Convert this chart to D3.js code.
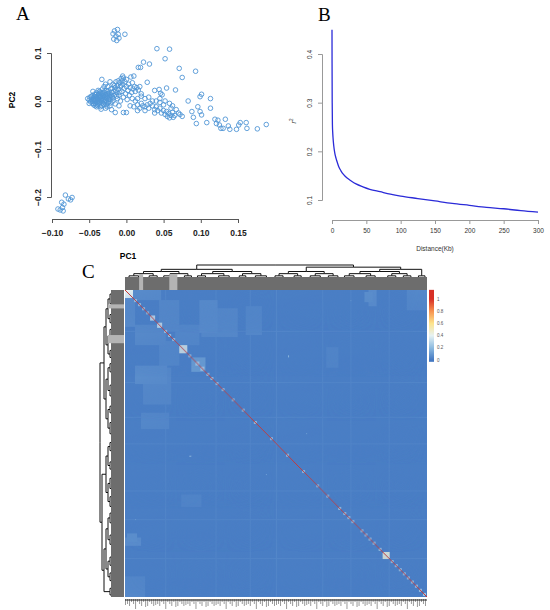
<!DOCTYPE html>
<html>
<head>
<meta charset="utf-8">
<script src="https://cdn.jsdelivr.net/npm/d3@7"></script>
<style>
body { margin: 0; background: #fff; }
svg text { font-family: "Liberation Sans", Arial, sans-serif; }
</style>
</head>
<body>
<div id="fig"></div>
<script>
// ---- Panel A: PCA (PC1, PC2) ----
const pcaPoints = [
  // upper group
  [-0.018,0.140],[-0.016,0.146],[-0.014,0.135],[-0.012,0.149],[-0.011,0.139],[-0.017,0.129],[-0.013,0.126],[-0.010,0.131],[-0.002,0.139],
  // lower-left group
  [-0.092,-0.225],[-0.089,-0.227],[-0.086,-0.222],[-0.084,-0.215],[-0.087,-0.211],[-0.082,-0.196],[-0.078,-0.204],[-0.075,-0.206],[-0.073,-0.201],[-0.085,-0.229],
  // scattered above the main cloud
  [0.041,0.109],[0.058,0.108],[0.052,0.088],[0.023,0.081],[0.031,0.077],[0.016,0.070],[0.019,0.070],[0.071,0.068],[0.093,0.062],[0.075,0.049],
  [0.028,0.039],[0.044,0.024],[0.054,0.027],[0.066,0.023],[0.046,0.016],[0.038,0.022],
  // main cloud
  [-0.052,0.005],[-0.050,0.002],[-0.049,0.008],[-0.048,-0.002],[-0.047,0.004],[-0.046,0.011],[-0.045,-0.005],[-0.045,0.000],[-0.044,0.006],[-0.043,0.014],
  [-0.042,-0.010],[-0.042,0.002],[-0.041,0.009],[-0.040,-0.003],[-0.040,0.017],[-0.039,0.005],[-0.038,0.012],[-0.038,-0.007],[-0.037,0.000],[-0.036,0.020],
  [-0.036,0.008],[-0.035,-0.012],[-0.035,0.003],[-0.034,0.015],[-0.033,0.045],[-0.033,-0.004],[-0.032,0.010],[-0.032,0.025],[-0.031,0.002],[-0.030,0.018],
  [-0.030,-0.008],[-0.029,0.007],[-0.028,-0.015],[-0.028,0.013],[-0.027,0.000],[-0.027,0.022],[-0.026,0.006],[-0.025,0.030],[-0.025,-0.005],[-0.024,0.016],
  [-0.023,0.010],[-0.022,-0.010],[-0.022,0.003],[-0.021,0.025],[-0.020,0.018],[-0.020,-0.018],[-0.019,0.008],[-0.018,0.035],[-0.018,0.000],[-0.017,0.020],
  [-0.016,0.012],[-0.015,0.028],[-0.015,-0.006],[-0.014,0.040],[-0.013,0.017],[-0.012,0.005],[-0.012,0.032],[-0.011,0.024],[-0.010,-0.010],[-0.010,0.012],
  [-0.009,0.038],[-0.008,0.030],[-0.008,0.000],[-0.007,0.047],[-0.006,0.020],[-0.005,0.035],[-0.005,0.052],[-0.004,0.008],[-0.003,0.026],[-0.002,0.040],
  [-0.001,0.015],[0.000,0.030],[0.000,0.045],[0.001,0.003],[0.002,0.022],[0.003,0.035],[0.004,0.012],[0.005,0.028],[0.006,0.050],[0.007,0.018],
  [0.008,0.038],[0.009,0.025],[0.010,0.052],[0.011,0.030],[0.012,0.020],[0.014,0.028],[0.016,0.023],[0.018,0.030],[-0.030,0.030],[-0.028,0.035],
  [-0.022,0.040],[-0.045,0.020],[-0.050,-0.005],[-0.038,0.022],[-0.040,-0.012],[-0.034,-0.017],[-0.026,-0.012],[-0.044,-0.008],[-0.039,0.000],[-0.036,-0.003],
  [-0.033,0.005],[-0.031,0.012],[-0.029,-0.002],[-0.026,0.015],[-0.024,0.004],[-0.035,0.009],[-0.041,0.003],[-0.043,0.000],[0.020,0.010],[0.025,0.005],
  [0.015,0.005],[-0.015,-0.024],[-0.004,-0.024],[0.000,-0.024],
  [-0.047,0.009],[-0.046,-0.001],[-0.044,0.003],[-0.043,0.009],[-0.042,-0.005],[-0.041,0.013],[-0.040,0.007],[-0.039,-0.009],[-0.038,0.004],[-0.037,0.015],
  [-0.037,-0.004],[-0.036,0.012],[-0.035,0.018],[-0.034,0.001],[-0.034,0.008],[-0.033,-0.010],[-0.032,0.016],[-0.031,-0.006],[-0.030,0.004],[-0.030,0.010],
  [-0.029,0.021],[-0.028,0.002],[-0.027,-0.008],[-0.026,0.010],[-0.025,0.020],[-0.024,-0.002],[-0.023,0.014],[-0.022,0.008],[-0.021,-0.004],[-0.020,0.012],
  [-0.019,0.026],[-0.018,0.006],[-0.016,0.032],[-0.014,0.022],[-0.013,0.010],[-0.011,0.042],[-0.009,0.018],[-0.007,0.032],[-0.006,0.042],[-0.004,0.048],
  // band toward the right
  [0.005,-0.010],[0.010,-0.012],[0.015,-0.008],[0.018,-0.015],[0.020,-0.005],[0.022,-0.010],[0.025,-0.012],[0.028,-0.008],[0.030,-0.015],[0.032,-0.005],
  [0.035,-0.010],[0.038,-0.018],[0.040,-0.012],[0.042,-0.020],[0.045,-0.015],[0.047,-0.025],[0.050,-0.020],[0.052,-0.028],[0.054,-0.022],[0.055,-0.032],
  [0.057,-0.026],[0.058,-0.035],[0.060,-0.030],[0.062,-0.024],[0.063,-0.034],[0.065,-0.030],[0.067,-0.018],[0.070,-0.025],[0.072,-0.028],[0.075,-0.032],
  [0.050,-0.008],[0.045,-0.003],[0.040,0.000],[0.030,0.008],[0.035,0.000],[0.012,0.000],[0.008,0.005],[0.020,0.015],[0.045,0.005],[0.048,0.013],
  [0.060,-0.015],[0.062,-0.010],[0.058,-0.005],[0.052,0.000],[0.038,-0.025],[0.025,-0.020],[0.015,-0.020],
  // tail
  [0.083,0.000],[0.088,-0.022],[0.090,-0.034],[0.094,-0.047],[0.096,-0.012],[0.099,-0.022],[0.101,-0.029],[0.101,0.014],[0.099,0.009],[0.108,-0.045],
  [0.113,0.005],[0.113,-0.015],[0.119,-0.038],[0.123,-0.040],[0.121,-0.047],[0.125,-0.050],[0.127,-0.057],[0.130,-0.057],[0.133,-0.038],[0.137,-0.052],
  [0.139,-0.059],[0.148,-0.059],[0.151,-0.050],[0.153,-0.045],[0.161,-0.045],[0.162,-0.057],[0.176,-0.058],[0.188,-0.049]
];
const pcaXTicks = [-0.10, -0.05, 0.00, 0.05, 0.10, 0.15];
const pcaYTicks = [-0.2, -0.1, 0.0, 0.1];

// ---- Panel B: LD decay ----
const ldDistance = [0, 0.1, 0.3, 0.6, 1, 1.5, 2.5, 4, 6, 8, 10, 13, 17, 22, 28, 35, 45, 55, 70, 85, 100, 125, 150, 175, 200, 225, 250, 275, 300];
const ldR2 = [0.450, 0.380, 0.300, 0.255, 0.240, 0.228, 0.212, 0.197, 0.185, 0.176, 0.168, 0.160, 0.152, 0.145, 0.139, 0.133, 0.127, 0.122, 0.117, 0.112, 0.108, 0.103, 0.098, 0.093, 0.089, 0.085, 0.082, 0.078, 0.075];
const ldXTicks = [0, 50, 100, 150, 200, 250, 300];
const ldYTicks = [0.1, 0.2, 0.3, 0.4];

// ---- Panel C: kinship heatmap ----
// sample clustering (a number = that many samples joined at one node)
const sampleTree = [
  [
    [[[8, [6, 4]], [[6, 6], 4]], [[[4, 6], [8, 4]], [6, [4, 4]]]],
    [[[4, [6, 6]], [[8, 4], [6, 4]]], [[[6, 4], 4], [[8, 6], [4, 6]]]]
  ],
  [
    [[[6, [4, 8]], [[4, 4], 6]], [[[6, 6], [4, 4]], [8, [6, 4]]]],
    [[[[4, [8, 6]], [[6, 4], [4, 6]]], [[[8, 4], 6], [[4, 6], 4]]], [[6, 4], 4]]
  ]
];
const selfKinship = 1;
const kinBase = 0.02;
// [start, size, value] related groups along the diagonal
const diagBlocks = [
  [0,8,0.40],[9,3,0.25],[13,3,0.25],[17,3,0.25],[21,3,0.22],[25,5,0.35],[32,5,0.35],[39,3,0.25],[43,3,0.25],[47,3,0.25],
  [54,8,0.42],[63,3,0.25],[66,14,0.13],[70,4,0.30],[75,4,0.30],[81,3,0.25],[85,3,0.25],[90,3,0.25],[96,3,0.25],
  [106,3,0.22],[116,3,0.22],[128,3,0.22],[144,3,0.22],[160,3,0.22],[176,3,0.22],[190,3,0.22],[200,3,0.22],
  [212,3,0.25],[217,3,0.25],[221,3,0.25],[225,3,0.25],[234,3,0.25],[238,3,0.25],[242,3,0.25],[246,3,0.25],
  [252,3,0.25],[256,7,0.45],[264,3,0.25],[268,3,0.25],[272,3,0.25],[276,3,0.25],[280,3,0.25],[284,3,0.25],
  [288,3,0.25],[292,3,0.25],[296,3,0.25]
];
// [rowStart, rowCount, colStart, colCount, value] off-diagonal blocks (mirrored)
const offBlocks = [
  [10,32,74,18,0.065],[0,10,0,36,0.06],[10,30,34,20,0.055],[34,20,50,24,0.05],[18,28,76,36,0.055],
  [2,10,238,8,0.08],[242,8,0,16,0.07],[280,20,0,20,0.05],[120,16,16,28,0.05],[200,12,56,20,0.045]
];
// [row, col, value] isolated pairs
const kinSpots = [[64,162,0.25],[65,162,0.25],[10,224,0.12],[140,180,0.14]];
const faintLines = [40, 90, 124, 150, 196, 224, 262];
// [start, size] light strips in the dendrogram bands
const bandGaps = [[14,4],[44,8]];
const legendTicks = [0, 0.2, 0.4, 0.6, 0.8, 1];
const legendColors = ['#4478c2', '#8dbbe0', '#e6f2f3', '#fde48c', '#f7924f', '#d73027'];

const svg = d3.select('#fig').append('svg')
  .attr('width', 550)
  .attr('height', 610)
  .style('background', '#fff');

function panelLetter(x, y, t) {
  svg.append('text')
    .attr('x', x).attr('y', y)
    .style('font-family', '"Liberation Serif", "Times New Roman", serif')
    .attr('font-size', 19)
    .text(t);
}

// ================= A =================
function drawPCA() {
  const x = d3.scaleLinear().domain([-0.10, 0.15]).range([52, 238]);
  const y = d3.scaleLinear().domain([-0.2, 0.1]).range([197, 53]);

  const xAxis = svg.append('g')
    .attr('transform', 'translate(0,219)')
    .call(d3.axisBottom(x).tickValues(pcaXTicks).tickFormat(d3.format('.2f')).tickSizeOuter(0).tickSize(4));
  xAxis.selectAll('text')
    .attr('y', 11)
    .attr('font-size', 8.5)
    .attr('font-weight', 'bold')
    .attr('fill', '#222');

  const yAxis = svg.append('g')
    .attr('transform', 'translate(51,0)')
    .call(d3.axisLeft(y).tickValues(pcaYTicks).tickFormat(d3.format('.1f')).tickSizeOuter(0).tickSize(4));
  yAxis.selectAll('text')
    .attr('transform', 'rotate(-90)')
    .attr('x', 0).attr('y', -10).attr('dy', 0)
    .attr('text-anchor', 'middle')
    .attr('font-size', 8.5)
    .attr('font-weight', 'bold')
    .attr('fill', '#222');

  [xAxis, yAxis].forEach(g => {
    g.selectAll('path, line').attr('stroke', '#555');
  });

  svg.append('text')
    .attr('x', 128).attr('y', 259)
    .attr('text-anchor', 'middle')
    .attr('font-size', 8.5).attr('font-weight', 'bold')
    .text('PC1');
  svg.append('text')
    .attr('transform', 'translate(15,100) rotate(-90)')
    .attr('text-anchor', 'middle')
    .attr('font-size', 8.5).attr('font-weight', 'bold')
    .text('PC2');

  svg.append('g').selectAll('circle')
    .data(pcaPoints)
    .join('circle')
    .attr('cx', d => x(d[0]))
    .attr('cy', d => y(d[1]))
    .attr('r', 2.3)
    .attr('fill', 'none')
    .attr('stroke', '#5196d6')
    .attr('stroke-width', 0.9);

  panelLetter(16, 20, 'A');
}

// ================= B =================
function drawLD() {
  const x = d3.scaleLinear().domain([0, 300]).range([332, 538]);
  const y = d3.scaleLinear().domain([0.1, 0.4]).range([200, 54]);

  const xAxis = svg.append('g')
    .attr('transform', 'translate(0,220)')
    .call(d3.axisBottom(x).tickValues(ldXTicks).tickSizeOuter(0).tickSize(4));
  xAxis.selectAll('text')
    .attr('y', 8)
    .attr('font-size', 6.5)
    .attr('fill', '#333');

  const yAxis = svg.append('g')
    .attr('transform', 'translate(322,0)')
    .call(d3.axisLeft(y).tickValues(ldYTicks).tickFormat(d3.format('.1f')).tickSizeOuter(0).tickSize(4));
  yAxis.selectAll('text')
    .attr('transform', 'rotate(-90)')
    .attr('x', 0).attr('y', -10).attr('dy', 0)
    .attr('text-anchor', 'middle')
    .attr('font-size', 6.5)
    .attr('fill', '#333');

  [xAxis, yAxis].forEach(g => {
    g.selectAll('path, line').attr('stroke', '#999');
  });

  svg.append('text')
    .attr('x', 435).attr('y', 251)
    .attr('text-anchor', 'middle')
    .attr('font-size', 6.5).attr('fill', '#333')
    .text('Distance(Kb)');

  const rl = svg.append('text')
    .attr('transform', 'translate(296,121) rotate(-90)')
    .attr('text-anchor', 'middle')
    .attr('font-size', 7).attr('fill', '#333');
  rl.append('tspan').attr('font-style', 'italic').text('r');
  rl.append('tspan').attr('font-size', 4.5).attr('dy', -3).text('2');

  const line = d3.line()
    .x((d, i) => x(ldDistance[i]))
    .y(d => y(d))
    .curve(d3.curveMonotoneX);

  svg.append('path')
    .datum(ldR2)
    .attr('d', line)
    .attr('fill', 'none')
    .attr('stroke', '#2b2bd8')
    .attr('stroke-width', 1.3);

  panelLetter(318, 21, 'B');
}

// ================= C =================
function expandTree(node) {
  if (typeof node === 'number') return { children: d3.range(node).map(() => ({})) };
  return { children: node.map(expandTree) };
}

function drawKinship() {
  const root = d3.hierarchy(expandTree(sampleTree));
  const leaves = root.leaves();
  const N = leaves.length;
  const ids = d3.range(N);

  const xs = d3.scaleBand().domain(ids).range([125, 427]);
  const ys = d3.scaleBand().domain(ids).range([290, 597]);

  const color = d3.scaleLinear().domain(legendTicks).range(legendColors).clamp(true);

  function kin(i, j) {
    if (i === j) return selfKinship;
    let v = kinBase;
    if (faintLines.includes(i) || faintLines.includes(j)) v = Math.max(v, 0.045);
    offBlocks.forEach(([r0, rn, c0, cn, val]) => {
      const a = i >= r0 && i < r0 + rn && j >= c0 && j < c0 + cn;
      const b = j >= r0 && j < r0 + rn && i >= c0 && i < c0 + cn;
      if (a || b) v = Math.max(v, val);
    });
    diagBlocks.forEach(([s, n, val]) => {
      if (i >= s && i < s + n && j >= s && j < s + n) v = Math.max(v, val);
    });
    kinSpots.forEach(([r, c, val]) => {
      if ((i === r && j === c) || (i === c && j === r)) v = Math.max(v, val);
    });
    return v;
  }

  const cells = [];
  ids.forEach(i => ids.forEach(j => cells.push({ i, j, v: kin(i, j) })));

  // base fill behind the cells so that anti-aliased seams do not show
  svg.append('rect')
    .attr('x', 125).attr('y', 290).attr('width', 302).attr('height', 307)
    .attr('fill', color(kinBase));

  svg.append('g')
    .selectAll('rect')
    .data(cells)
    .join('rect')
    .attr('x', d => xs(d.j))
    .attr('y', d => ys(d.i))
    .attr('width', xs.bandwidth())
    .attr('height', ys.bandwidth())
    .attr('fill', d => color(d.v));

  // dendrogram positions
  leaves.forEach((l, k) => { l.data.idx = k; });
  root.eachAfter(n => {
    if (!n.children) n.pos = n.data.idx;
    else n.pos = (n.children[0].pos + n.children[n.children.length - 1].pos) / 2;
  });

  const colPos = p => xs(0) + (p + 0.5) * xs.step();
  const rowPos = p => ys(0) + (p + 0.5) * ys.step();

  // top dendrogram
  const hTop = d3.scaleLinear().domain([0, 2, root.height]).range([290, 278, 265]);
  svg.append('g').selectAll('path')
    .data(root.links())
    .join('path')
    .attr('d', l => `M${colPos(l.source.pos)},${hTop(l.source.height)}H${colPos(l.target.pos)}V${hTop(l.target.height)}`)
    .attr('fill', 'none')
    .attr('stroke', '#111')
    .attr('stroke-width', 1);

  // left dendrogram
  const hLeft = d3.scaleLinear().domain([0, 2, root.height]).range([124, 112, 100]);
  svg.append('g').selectAll('path')
    .data(root.links())
    .join('path')
    .attr('d', l => `M${hLeft(l.source.height)},${rowPos(l.source.pos)}V${rowPos(l.target.pos)}H${hLeft(l.target.height)}`)
    .attr('fill', 'none')
    .attr('stroke', '#111')
    .attr('stroke-width', 1);

  // dense leaf bands
  svg.append('rect').attr('x', 125).attr('y', 277).attr('width', 302).attr('height', 13).attr('fill', '#6d6d6d');
  svg.append('rect').attr('x', 111).attr('y', 290).attr('width', 13).attr('height', 307).attr('fill', '#6d6d6d');
  bandGaps.forEach(([s, n]) => {
    svg.append('rect').attr('x', xs(s)).attr('y', 274).attr('width', n * xs.step()).attr('height', 16).attr('fill', '#b4b4b4');
    svg.append('rect').attr('x', 108).attr('y', ys(s)).attr('width', 16).attr('height', n * ys.step()).attr('fill', '#b4b4b4');
  });

  // sample labels below the heatmap (too small to read)
  svg.append('g').selectAll('line')
    .data(ids.filter(d => d % 2 === 0))
    .join('line')
    .attr('x1', d => colPos(d)).attr('x2', d => colPos(d))
    .attr('y1', 599)
    .attr('y2', d => 602 + (d % 6) + (d % 10 === 0 ? 3 : 0))
    .attr('stroke', '#555')
    .attr('stroke-width', 0.6);
  svg.append('line').attr('x1', 125).attr('x2', 427).attr('y1', 600).attr('y2', 600)
    .attr('stroke', '#222').attr('stroke-width', 1.2);

  // legend
  const ly = d3.scaleLinear().domain([0, 1]).range([360, 299]);
  const grad = svg.append('defs').append('linearGradient')
    .attr('id', 'kinGrad')
    .attr('x1', 0).attr('y1', 1).attr('x2', 0).attr('y2', 0);
  const gTop = 1.15, gBot = -0.03;
  legendTicks.concat([gTop]).forEach(v => {
    grad.append('stop')
      .attr('offset', (v - gBot) / (gTop - gBot))
      .attr('stop-color', color(v));
  });
  svg.append('rect')
    .attr('x', 429).attr('y', ly(gTop))
    .attr('width', 5).attr('height', ly(gBot) - ly(gTop))
    .attr('fill', 'url(#kinGrad)');
  svg.append('g').selectAll('text')
    .data(legendTicks)
    .join('text')
    .attr('x', 437)
    .attr('y', d => ly(d) + 1.5)
    .attr('font-size', 4.5)
    .attr('fill', '#555')
    .text(d => d3.format('~g')(d));

  panelLetter(82, 278, 'C');
}

drawPCA();
drawLD();
drawKinship();
</script>
</body>
</html>
